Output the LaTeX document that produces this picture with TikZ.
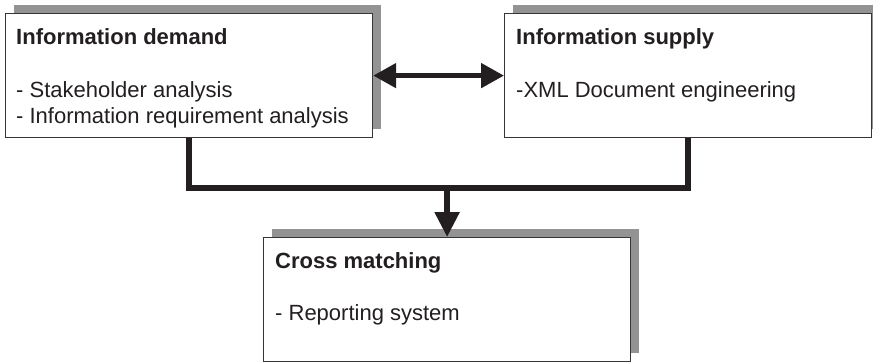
\documentclass[tikz,border=0pt]{standalone}
\usepackage{fontspec}
\setmainfont{Liberation Sans}
\usetikzlibrary{arrows.meta,shadows}
\definecolor{ink}{HTML}{231F20}
\definecolor{shade}{HTML}{939393}
\begin{document}
\begin{tikzpicture}[x=1pt,y=-1pt,
  box/.style={draw=ink!90, line width=1.2pt, fill=white, rectangle,
    minimum width=367pt, minimum height=124pt, anchor=north west, inner sep=0pt,
    drop shadow={shadow xshift=8.5pt, shadow yshift=9pt, fill=shade, opacity=1}},
  txt/.style={anchor=base west, inner sep=0pt, text=ink,
    font=\fontsize{22}{26}\selectfont},
  head/.style={txt, font=\fontsize{22}{26}\selectfont\bfseries},
  conn/.style={draw=ink, line width=5.5pt, line join=miter},
  tip/.style={-{Triangle[length=25pt,width=24pt]}},
]
\useasboundingbox (0,0) rectangle (873,362);

% three boxes
\node[box] (d) at (5,13) {};
\node[box] (s) at (504,13) {};
\node[box] (c) at (263,237) {};

% box texts
\node[head] (d1) at (16,44) {Information demand};
\node[txt]  (d2) at (16,97) {- Stakeholder analysis};
\node[txt]  (d3) at (16,123) {- Information requirement analysis};

\node[head] (s1) at (516,44) {Information supply};
\node[txt]  (s2) at (516,97) {-XML Document engineering};

\node[head] (c1) at (275,268) {Cross matching};
\node[txt]  (c2) at (275,320) {- Reporting system};

% connectors
\draw[draw=ink, line width=5pt,
  {Triangle[length=23pt,width=24pt]}-{Triangle[length=23pt,width=24pt]}]
  (d.east) -- (s.west);
\coordinate (j) at (c.north |- 0,188);
\draw[conn] (d.south) |- (j) -| (s.south);
\draw[conn, tip] (j) -- (c.north);
\end{tikzpicture}
\end{document}
